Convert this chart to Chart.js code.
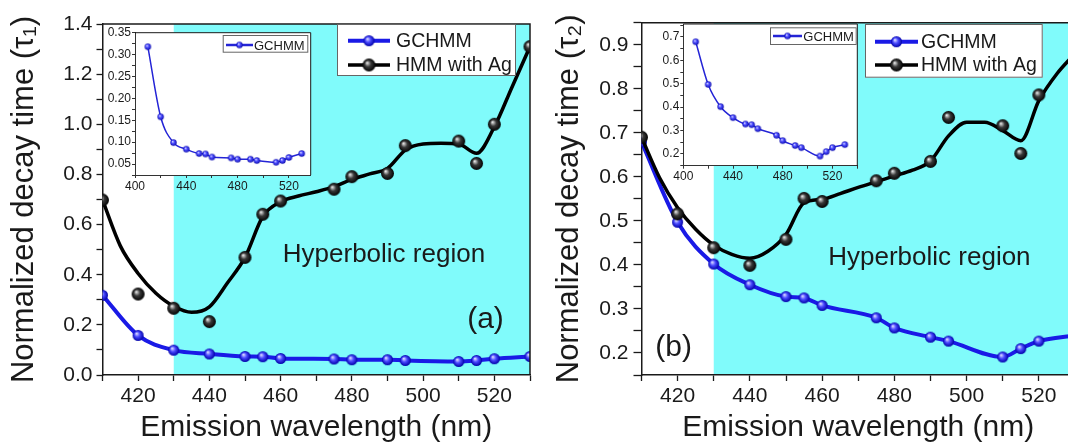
<!DOCTYPE html>
<html>
<head>
<meta charset="utf-8">
<script src="https://cdn.jsdelivr.net/npm/chart.js@4.4.1/dist/chart.umd.min.js"></script>
<style>
  html, body { margin: 0; padding: 0; background: #fff; overflow: hidden; }
  body { width: 1068px; height: 446px; position: relative; }
  canvas { position: absolute; }
</style>
</head>
<body>
<canvas id="main-a" style="left:0;top:0" width="540" height="446"></canvas>
<canvas id="main-b" style="left:545px;top:0" width="540" height="446"></canvas>
<canvas id="inset-a" style="left:95px;top:23px" width="222" height="177"></canvas>
<canvas id="inset-b" style="left:645px;top:14px" width="218" height="177"></canvas>
<script>
'use strict';

// measured wavelengths (nm) and normalized decay times
const wavelengths = [410, 420, 430, 440, 450, 455, 460, 475, 480, 490, 495, 510, 515, 520, 530];
const gchmmTau1 = [0.318, 0.158, 0.099, 0.084, 0.074, 0.073, 0.066, 0.064, 0.061, 0.061, 0.058, 0.054, 0.058, 0.065, 0.074];
const hmmTau1 = [0.698, 0.323, 0.266, 0.213, 0.469, 0.641, 0.694, 0.741, 0.791, 0.804, 0.915, 0.933, 0.844, 1.0, 1.31];
const gchmmTau2 = [0.679, 0.497, 0.402, 0.355, 0.328, 0.325, 0.308, 0.28, 0.257, 0.236, 0.227, 0.191, 0.21, 0.227, 0.24];
const hmmTau2 = [0.69, 0.516, 0.439, 0.399, 0.458, 0.551, 0.544, 0.591, 0.608, 0.635, 0.735, 0.716, 0.653, 0.786, 0.89];

// smoothed guide curve through the HMM points
const fitWavelengths = [410, 415, 420, 425, 430, 435, 440, 445, 450, 455, 460, 465, 470, 475, 480, 485, 490, 495, 500, 505, 510, 515, 520, 525, 530];
const hmmFitTau1 = [0.698, 0.515, 0.405, 0.326, 0.274, 0.25, 0.272, 0.366, 0.469, 0.632, 0.691, 0.714, 0.731, 0.751, 0.78, 0.802, 0.824, 0.897, 0.921, 0.924, 0.921, 0.884, 0.99, 1.15, 1.31];
const hmmFitTau2 = [0.69, 0.598, 0.53, 0.481, 0.445, 0.424, 0.415, 0.431, 0.469, 0.541, 0.549, 0.562, 0.576, 0.589, 0.602, 0.615, 0.636, 0.693, 0.724, 0.724, 0.705, 0.682, 0.773, 0.834, 0.88];

const seriesNames = ['GCHMM', 'HMM with Ag'];
const hyperbolicStart = 430;
const xTitle = 'Emission wavelength (nm)';
const yTitles = ['Normalized decay time (\u03c4\u2081)', 'Normalized decay time (\u03c4\u2082)'];
const panelTags = ['(a)', '(b)'];
const regionLabel = 'Hyperbolic region';

const CYAN = '#80fbfb';
const BLUE = '#1a1ae6';
const INK = '#1a1a1a';
const FONT = '"Liberation Sans", Arial, Helvetica, sans-serif';

Chart.defaults.font.family = FONT;
Chart.defaults.color = INK;

function sphere(r, light, mid, dark) {
  const c = document.createElement('canvas');
  c.width = c.height = Math.ceil(2 * r + 2);
  const g = c.getContext('2d');
  const cx = c.width / 2, cy = c.height / 2;
  const grad = g.createRadialGradient(cx - r * 0.3, cy - r * 0.35, r * 0.05, cx, cy, r);
  grad.addColorStop(0, light);
  grad.addColorStop(0.45, mid);
  grad.addColorStop(1, dark);
  g.fillStyle = grad;
  g.beginPath();
  g.arc(cx, cy, r, 0, Math.PI * 2);
  g.fill();
  return c;
}

const blueBall = sphere(5.5, '#e0e0ff', '#4a4aff', '#0000a8');
const blackBall = sphere(6.5, '#e8e8e8', '#3a3a3a', '#000');
const smallBlueBall = sphere(3.2, '#d8d8ff', '#4a4aff', '#1010b0');

const pts = (xs, ys) => xs.map((x, i) => ({ x, y: ys[i] }));
const isMultiple = (v, step) => Math.abs(v / step - Math.round(v / step)) < 1e-6;

// tick marks on every multiple of step inside [min, max]
function stepTicks(s, step) {
  const ticks = [];
  for (let k = Math.ceil(s.min / step - 1e-6); k * step <= s.max + 1e-9; k++) {
    ticks.push({ value: +(k * step).toFixed(6) });
  }
  s.ticks = ticks;
}

function drawLegend(ctx, lg) {
  ctx.save();
  ctx.fillStyle = '#fff';
  ctx.fillRect(lg.x, lg.y, lg.w, lg.h);
  ctx.strokeStyle = '#666';
  ctx.lineWidth = 1;
  ctx.strokeRect(lg.x + 0.5, lg.y + 0.5, lg.w - 1, lg.h - 1);
  lg.items.forEach((it, i) => {
    const y = lg.y + lg.rows[i];
    ctx.strokeStyle = it.color;
    ctx.lineWidth = it.lineWidth;
    ctx.beginPath();
    ctx.moveTo(lg.x + lg.line[0], y);
    ctx.lineTo(lg.x + lg.line[1], y);
    ctx.stroke();
    const mx = lg.x + (lg.line[0] + lg.line[1]) / 2;
    ctx.drawImage(it.img, mx - it.img.width / 2, y - it.img.height / 2);
    ctx.fillStyle = INK;
    ctx.font = lg.font;
    ctx.textBaseline = 'middle';
    ctx.textAlign = 'left';
    ctx.fillText(it.label, lg.x + lg.textX, y + 1);
  });
  ctx.restore();
}

const decor = {
  id: 'decor',
  beforeDraw(chart, args, opts) {
    const { ctx, chartArea: a } = chart;
    ctx.save();
    if (opts.plotFill) {
      ctx.fillStyle = opts.plotFill;
      ctx.fillRect(a.left, a.top, a.width, a.height);
    }
    if (opts.shadeFrom != null) {
      const x0 = chart.scales.x.getPixelForValue(opts.shadeFrom);
      ctx.fillStyle = CYAN;
      ctx.fillRect(x0, a.top, a.right - x0, a.height);
    }
    ctx.restore();
  },
  afterDatasetsDraw(chart, args, opts) {
    const { ctx, scales: { x, y } } = chart;
    ctx.save();
    (opts.notes || []).forEach(n => {
      ctx.font = n.size + 'px ' + FONT;
      ctx.fillStyle = INK;
      ctx.textAlign = 'center';
      ctx.textBaseline = 'middle';
      ctx.fillText(n.text, x.getPixelForValue(n.x), y.getPixelForValue(n.y));
    });
    ctx.restore();
  },
  afterDraw(chart, args, opts) {
    const { ctx, chartArea: a } = chart;
    ctx.save();
    ctx.strokeStyle = INK;
    ctx.lineWidth = opts.frameWidth || 1.5;
    ctx.beginPath();
    ctx.moveTo(a.left, a.top);
    ctx.lineTo(a.right, a.top);
    ctx.lineTo(a.right, a.bottom);
    ctx.stroke();
    ctx.restore();
    if (opts.legend) drawLegend(ctx, opts.legend);
  }
};

function mainChart(id, c) {
  return new Chart(document.getElementById(id), {
    type: 'line',
    data: {
      datasets: [
        { label: seriesNames[1], data: pts(wavelengths, c.hmm), showLine: false,
          pointStyle: blackBall, pointRadius: 7, order: 0 },
        { label: seriesNames[1] + ' curve', data: pts(fitWavelengths, c.fit), borderColor: '#000',
          borderWidth: 3.5, pointRadius: 0, cubicInterpolationMode: 'monotone', order: 1 },
        { label: seriesNames[0], data: pts(wavelengths, c.gchmm), borderColor: BLUE, borderWidth: 4,
          pointStyle: blueBall, pointRadius: 6, cubicInterpolationMode: 'monotone', order: 2 }
      ]
    },
    options: {
      responsive: false,
      animation: false,
      events: [],
      layout: { padding: c.pad },
      plugins: {
        legend: { display: false },
        tooltip: { enabled: false },
        decor: {
          shadeFrom: hyperbolicStart,
          notes: c.notes,
          legend: Object.assign({
            font: '19.5px ' + FONT,
            items: [
              { label: seriesNames[0], color: BLUE, lineWidth: 4, img: blueBall },
              { label: seriesNames[1], color: '#000', lineWidth: 3.5, img: blackBall }
            ]
          }, c.legend)
        }
      },
      scales: {
        x: {
          type: 'linear', min: 410, max: 530,
          afterFit: s => { s.height = 71; },
          afterBuildTicks: s => stepTicks(s, 10),
          ticks: { autoSkip: false, maxRotation: 0, font: { size: 21 }, padding: 3,
            callback: v => (v % 20 === 0 ? v : '') },
          grid: { drawOnChartArea: false, tickLength: 6, tickColor: INK, tickWidth: 1.3 },
          border: { color: INK, width: 1.5 },
          title: { display: true, text: xTitle, font: { size: 30 }, padding: { top: 1, bottom: 0 } }
        },
        y: {
          min: c.yMin, max: c.yMax,
          afterFit: s => { s.width = c.yWidth; },
          afterBuildTicks: s => stepTicks(s, c.yStep),
          ticks: { autoSkip: false, font: { size: 21 }, padding: c.yPad,
            callback: v => (isMultiple(v, c.yLabelStep) ? v.toFixed(1) : '') },
          grid: { drawOnChartArea: false, tickLength: c.yTick, tickColor: INK, tickWidth: 1.3 },
          border: { color: INK, width: 1.5 },
          title: { display: true, text: c.yTitle, font: { size: 31 }, padding: { top: 6, bottom: 0 } }
        }
      }
    },
    plugins: [decor]
  });
}

function insetChart(id, c) {
  return new Chart(document.getElementById(id), {
    type: 'line',
    data: {
      datasets: [
        { label: seriesNames[0], data: pts(wavelengths, c.gchmm), borderColor: '#2424d6', borderWidth: 1.5,
          pointStyle: smallBlueBall, pointRadius: 3.5, cubicInterpolationMode: 'monotone' }
      ]
    },
    options: {
      responsive: false,
      animation: false,
      events: [],
      layout: { padding: c.pad },
      plugins: {
        legend: { display: false },
        tooltip: { enabled: false },
        decor: {
          plotFill: '#fff',
          frameWidth: 1,
          legend: Object.assign({
            font: '13px ' + FONT,
            items: [{ label: seriesNames[0], color: '#2424d6', lineWidth: 2.5, img: smallBlueBall }]
          }, c.legend)
        }
      },
      scales: {
        x: {
          type: 'linear', min: 400, max: c.xMax,
          afterFit: s => { s.height = c.xH; },
          afterBuildTicks: s => stepTicks(s, 20),
          ticks: { autoSkip: false, maxRotation: 0, font: { size: 12 }, padding: 1,
            callback: v => (v % 40 === 0 ? v : '') },
          grid: { drawOnChartArea: false, tickLength: 3, tickColor: '#333' },
          border: { color: '#333', width: 1 }
        },
        y: {
          min: c.yMin, max: c.yMax,
          afterFit: s => { s.width = c.yWidth; },
          afterBuildTicks: s => stepTicks(s, c.yStep),
          ticks: { autoSkip: false, font: { size: 12 }, padding: 1,
            callback: v => (isMultiple(v, c.yLabelStep) ? v.toFixed(c.digits) : '') },
          grid: { drawOnChartArea: false, tickLength: 3, tickColor: '#333' },
          border: { color: '#333', width: 1 }
        }
      }
    },
    plugins: [decor]
  });
}

mainChart('main-a', {
  hmm: hmmTau1, fit: hmmFitTau1, gchmm: gchmmTau1,
  pad: { left: 0, right: 2, top: 24, bottom: 0 },
  yMin: 0, yMax: 1.4, yStep: 0.1, yLabelStep: 0.2, yWidth: 102.5, yPad: 4, yTick: 6,
  yTitle: yTitles[0],
  notes: [
    { text: regionLabel, x: 489, y: 0.479, size: 26 },
    { text: panelTags[0], x: 517.5, y: 0.219, size: 30 }
  ],
  legend: { x: 337, y: 24, w: 179, h: 52, line: [11, 53], textX: 59, rows: [16.7, 41] }
});

mainChart('main-b', {
  hmm: hmmTau2, fit: hmmFitTau2, gchmm: gchmmTau2,
  pad: { left: 0, right: 10, top: 22.7, bottom: 0 },
  yMin: 0.15, yMax: 0.95, yStep: 0.05, yLabelStep: 0.1, yWidth: 96.5, yPad: 5, yTick: 8,
  yTitle: yTitles[1],
  notes: [
    { text: regionLabel, x: 489.7, y: 0.416, size: 26 },
    { text: panelTags[1], x: 418.9, y: 0.211, size: 30 }
  ],
  legend: { x: 320, y: 24, w: 177.7, h: 53.7, line: [10, 53], textX: 56, rows: [17.7, 41] }
});

insetChart('inset-a', {
  gchmm: gchmmTau1,
  pad: { left: 0, right: 6.3, top: 9.7, bottom: 0 },
  xMax: 537, xH: 25,
  yMin: 0.025, yMax: 0.35, yStep: 0.025, yLabelStep: 0.05, digits: 2, yWidth: 40,
  legend: { x: 127.7, y: 12, w: 85.6, h: 17.7, line: [3.3, 30.3], textX: 31.3, rows: [10] }
});

insetChart('inset-b', {
  gchmm: gchmmTau2,
  pad: { left: 0, right: 5.7, top: 10, bottom: 0 },
  xMax: 540, xH: 25.3,
  yMin: 0.15, yMax: 0.755, yStep: 0.05, yLabelStep: 0.1, digits: 1, yWidth: 38.3,
  legend: { x: 125, y: 13.3, w: 86.7, h: 17.7, line: [3, 32], textX: 33.3, rows: [8.7] }
});
</script>
</body>
</html>
